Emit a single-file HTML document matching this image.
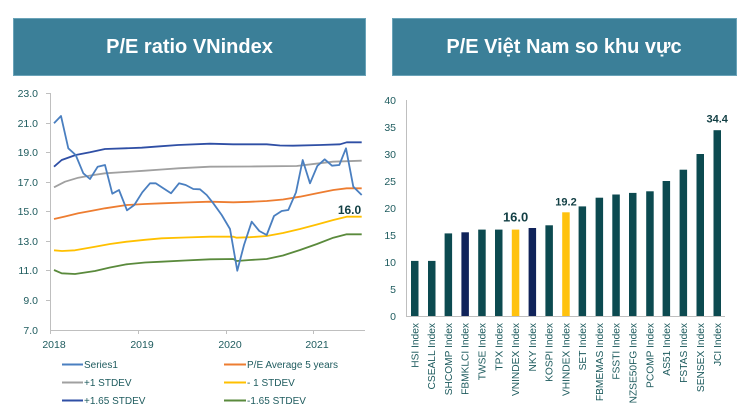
<!DOCTYPE html>
<html><head><meta charset="utf-8"><style>
html,body{margin:0;padding:0;background:#fff;}
svg{display:block;}
text{font-family:"Liberation Sans","Noto Sans CJK SC",sans-serif;}
</style></head><body>
<svg width="750" height="418" viewBox="0 0 750 418" xmlns="http://www.w3.org/2000/svg">
<rect width="750" height="418" fill="#fff"/>
<!-- Headers -->
<rect x="13.5" y="18.5" width="352" height="57" fill="#3b7f98" stroke="#6aa3b8" stroke-width="1"/>
<text x="189.5" y="53" font-size="20" font-weight="bold" fill="#fff" text-anchor="middle">P/E ratio VNindex</text>
<rect x="392.5" y="18.5" width="344" height="57" fill="#3b7f98" stroke="#6aa3b8" stroke-width="1"/>
<text x="564" y="53" font-size="20" font-weight="bold" fill="#fff" text-anchor="middle">P/E Việt Nam so khu vực</text>

<!-- LEFT CHART -->
<g stroke="#bfbfbf" stroke-width="1" fill="none">
<line x1="50.5" y1="93" x2="50.5" y2="330"/>
<line x1="50" y1="330.5" x2="365" y2="330.5"/>
<line x1="46" y1="93.5" x2="50" y2="93.5"/>
<line x1="46" y1="123.5" x2="50" y2="123.5"/>
<line x1="46" y1="152.5" x2="50" y2="152.5"/>
<line x1="46" y1="182.5" x2="50" y2="182.5"/>
<line x1="46" y1="211.5" x2="50" y2="211.5"/>
<line x1="46" y1="241.5" x2="50" y2="241.5"/>
<line x1="46" y1="270.5" x2="50" y2="270.5"/>
<line x1="46" y1="300.5" x2="50" y2="300.5"/>
<line x1="50.5" y1="330" x2="50.5" y2="334"/>
<line x1="138.5" y1="330" x2="138.5" y2="334"/>
<line x1="226.5" y1="330" x2="226.5" y2="334"/>
<line x1="313.5" y1="330" x2="313.5" y2="334"/>
</g>
<g font-size="10.5" fill="#1e5b5e" text-anchor="end">
<text x="38" y="97">23.0</text>
<text x="38" y="127">21.0</text>
<text x="38" y="156">19.0</text>
<text x="38" y="186">17.0</text>
<text x="38" y="215">15.0</text>
<text x="38" y="245">13.0</text>
<text x="38" y="274">11.0</text>
<text x="38" y="304">9.0</text>
<text x="38" y="334">7.0</text>
</g>
<g font-size="10.5" fill="#1e5b5e" text-anchor="middle">
<text x="54" y="348">2018</text>
<text x="142" y="348">2019</text>
<text x="230" y="348">2020</text>
<text x="317" y="348">2021</text>
</g>
<g fill="none" stroke-width="1.8" stroke-linejoin="round">
<polyline stroke="#5a8a3c" points="54,270 61.7,273.3 75,274 95,271 110,267.5 126.7,264.3 145,262.5 161.7,261.7 185,260.5 210,259.3 233.3,259 236.7,261 250,260 266.7,259 283,255.5 300,250 317,244 333.3,237.7 346.7,234.3 361.7,234.3"/>
<polyline stroke="#ffc000" points="54,250.3 62,251 75,250.3 95,246.7 110,244 126.7,241.7 145,239.8 161.7,238.3 185,237.5 210,236.7 233.3,236.7 236.7,237.7 250,237.2 266.7,236 283,233 300,229 317,224.5 333.3,220 346.7,216.7 361.7,216.7"/>
<polyline stroke="#ed7d31" points="54,219 65,216.5 78.3,213.3 92,210.8 105,208.3 126.7,205 145,204 161.7,203.3 185,202.5 210,201.7 233.3,202.3 250,201.8 266.7,201 283,199.5 300,196.7 317,193.3 333.3,190 346.7,188.3 361.7,188.3"/>
<polyline stroke="#a0a0a0" points="54,187.3 65,181.7 78.3,177.7 92,175.3 105,173.3 125,172 145,170.7 161.7,169.5 178.3,168.3 210,166.7 250,166.5 296.7,166 315,163.8 333,161.7 361.7,160.7"/>
<polyline stroke="#2f4fa5" points="54,166.7 61.7,160 75.7,155 90,152.3 105,149 125,148.3 141.7,147.7 160,146.3 178,145 210,143.7 233,144.3 266.7,144.3 280,145.5 293,145.7 320,145 340,144.3 346.7,142.3 361.7,142.3"/>
<polyline stroke="#4a7fc0" points="54,123.3 61,116 68.3,148.3 75.7,155 83.3,173.3 90,179 97.7,166.7 105,165 112.3,193.7 119,190 127,210.3 134.3,205 142.3,192.3 150,183.3 155.7,183.3 163.3,188.3 171,193.3 179,183.3 185.7,185 193.3,189 200,189.3 206.7,195 213.3,203.3 221.7,215 230,229 237.3,270.7 244,245 251.7,221.7 259.3,231 266.7,235 274,216 281.7,211 288.3,210 296,192.3 302.7,160 310,183.3 317.3,166 324.7,159.3 332,165.7 339.3,165 346,148.3 353.3,186.7 361.7,195"/>
</g>
<text x="349.5" y="214" font-size="12" font-weight="bold" fill="#123f44" text-anchor="middle">16.0</text>

<!-- Legend -->
<g stroke-width="2">
<line x1="62" y1="364.5" x2="83" y2="364.5" stroke="#4a7fc0"/>
<line x1="224" y1="364.5" x2="246" y2="364.5" stroke="#ed7d31"/>
<line x1="62" y1="382.5" x2="83" y2="382.5" stroke="#a0a0a0"/>
<line x1="224" y1="382.5" x2="246" y2="382.5" stroke="#ffc000"/>
<line x1="62" y1="400.5" x2="83" y2="400.5" stroke="#2f4fa5"/>
<line x1="224" y1="400.5" x2="246" y2="400.5" stroke="#5a8a3c"/>
</g>
<g font-size="10" fill="#1e5b5e">
<text x="84" y="368">Series1</text>
<text x="247" y="368">P/E Average 5 years</text>
<text x="84" y="386">+1 STDEV</text>
<text x="247" y="386">- 1 STDEV</text>
<text x="84" y="404">+1.65 STDEV</text>
<text x="247" y="404">-1.65 STDEV</text>
</g>

<!-- RIGHT CHART -->
<g stroke="#bfbfbf" stroke-width="1">
<line x1="406.5" y1="100" x2="406.5" y2="316"/>
<line x1="406" y1="316.5" x2="725" y2="316.5"/>
</g>
<g font-size="10.5" fill="#1e5b5e" text-anchor="end">
<text x="396" y="104">40</text>
<text x="396" y="131">35</text>
<text x="396" y="158">30</text>
<text x="396" y="185">25</text>
<text x="396" y="212">20</text>
<text x="396" y="239">15</text>
<text x="396" y="266">10</text>
<text x="396" y="293">5</text>
<text x="396" y="320">0</text>
</g>
<g>
<rect x="411" y="260.9" width="7.5" height="55.1" fill="#0c4a50"/>
<rect x="428" y="260.9" width="7.5" height="55.1" fill="#0c4a50"/>
<rect x="444.6" y="233.4" width="7.5" height="82.6" fill="#0c4a50"/>
<rect x="461.4" y="232.3" width="7.5" height="83.7" fill="#10235a"/>
<rect x="478.2" y="229.6" width="7.5" height="86.4" fill="#0c4a50"/>
<rect x="495" y="229.6" width="7.5" height="86.4" fill="#0c4a50"/>
<rect x="511.8" y="229.6" width="7.5" height="86.4" fill="#ffc20e"/>
<rect x="528.6" y="228" width="7.5" height="88" fill="#10235a"/>
<rect x="545.4" y="225.3" width="7.5" height="90.7" fill="#0c4a50"/>
<rect x="562.2" y="212.3" width="7.5" height="103.7" fill="#ffc20e"/>
<rect x="578.6" y="206.4" width="7.5" height="109.6" fill="#0c4a50"/>
<rect x="595.6" y="197.7" width="7.5" height="118.3" fill="#0c4a50"/>
<rect x="612.3" y="194.5" width="7.5" height="121.5" fill="#0c4a50"/>
<rect x="629" y="192.9" width="7.5" height="123.1" fill="#0c4a50"/>
<rect x="646.2" y="191.3" width="7.5" height="124.7" fill="#0c4a50"/>
<rect x="662.6" y="181" width="7.5" height="135" fill="#0c4a50"/>
<rect x="679.6" y="169.7" width="7.5" height="146.3" fill="#0c4a50"/>
<rect x="696.5" y="154" width="7.5" height="162" fill="#0c4a50"/>
<rect x="713.5" y="130.2" width="7.5" height="185.8" fill="#0c4a50"/>
</g>
<g font-weight="bold" fill="#123f44" text-anchor="middle">
<text x="515.6" y="221.5" font-size="13">16.0</text>
<text x="566" y="205.5" font-size="11">19.2</text>
<text x="717.2" y="122.5" font-size="11">34.4</text>
</g>
<g font-size="10.2" fill="#1e5b5e" text-anchor="end">
<text transform="translate(418.3,323) rotate(-90)">HSI Index</text>
<text transform="translate(435.2,323) rotate(-90)">CSEALL Index</text>
<text transform="translate(451.9,323) rotate(-90)">SHCOMP Index</text>
<text transform="translate(468.7,323) rotate(-90)">FBMKLCI Index</text>
<text transform="translate(485.5,323) rotate(-90)">TWSE Index</text>
<text transform="translate(502.3,323) rotate(-90)">TPX Index</text>
<text transform="translate(519.1,323) rotate(-90)">VNINDEX Index</text>
<text transform="translate(535.9,323) rotate(-90)">NKY Index</text>
<text transform="translate(552.7,323) rotate(-90)">KOSPI Index</text>
<text transform="translate(569.5,323) rotate(-90)">VHINDEX Index</text>
<text transform="translate(585.9,323) rotate(-90)">SET Index</text>
<text transform="translate(602.9,323) rotate(-90)">FBMEMAS Index</text>
<text transform="translate(619.6,323) rotate(-90)">FSSTI Index</text>
<text transform="translate(636.3,323) rotate(-90)">NZSE50FG Index</text>
<text transform="translate(653.5,323) rotate(-90)">PCOMP Index</text>
<text transform="translate(669.9,323) rotate(-90)">AS51 Index</text>
<text transform="translate(686.9,323) rotate(-90)">FSTAS Index</text>
<text transform="translate(703.8,323) rotate(-90)">SENSEX Index</text>
<text transform="translate(720.8,323) rotate(-90)">JCI Index</text>
</g>
</svg>
</body></html>
